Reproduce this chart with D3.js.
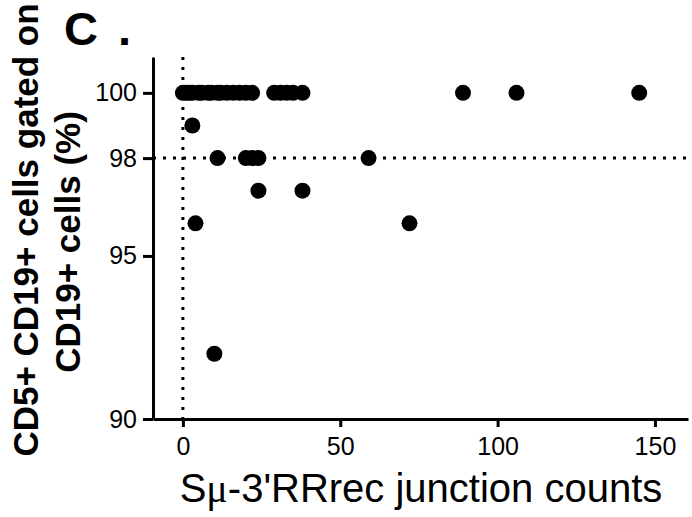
<!DOCTYPE html>
<html>
<head>
<meta charset="utf-8" />
<title>Sμ-3'RRrec junction counts</title>
<script src="https://d3js.org/d3.v7.min.js"></script>
<style>
    body { margin: 0; background: #fff; }
    text { font-family: "Liberation Sans", Arial, sans-serif; fill: #000; }
</style>
</head>
<body>
<svg id="chart"></svg>
<script>

// data
var junctionCounts = [0, 1, 2, 3, 5, 6, 8, 9, 11, 12, 14, 16, 18, 20, 22, 29, 31, 33, 35, 38, 89, 106, 145,
                      3,
                      11, 20, 22, 24, 59,
                      24, 38,
                      4, 72,
                      10]
var pctCD5 = [100, 100, 100, 100, 100, 100, 100, 100, 100, 100, 100, 100, 100, 100, 100, 100, 100, 100, 100, 100, 100, 100, 100,
              99,
              98, 98, 98, 98, 98,
              97, 97,
              96, 96,
              92]
var xTicks = [0, 50, 100, 150]
var yTicks = [90, 95, 98, 100]
var cutX = 0
var cutY = 98

var W = 692, H = 517

var svg = d3.select('#chart')
    .attr('width', W)
    .attr('height', H)

var x = d3.scaleLinear().domain([-9.5, 160.5]).range([153, 688])
var y = d3.scaleLinear().domain([90, 101.1]).range([419, 57])

// dotted reference lines
svg.append('line')
    .attr('x1', x(cutX)).attr('x2', x(cutX))
    .attr('y1', y(101.1)).attr('y2', y(90))
    .attr('stroke', '#000').attr('stroke-width', 3)
    .attr('stroke-dasharray', '3,7')

svg.append('line')
    .attr('x1', x(-9.5)).attr('x2', x(160.5))
    .attr('y1', y(cutY)).attr('y2', y(cutY))
    .attr('stroke', '#000').attr('stroke-width', 3)
    .attr('stroke-dasharray', '3,7')

// axes
svg.append('g')
    .attr('transform', `translate(0,${y(90)})`)
    .call(d3.axisBottom(x).tickValues(xTicks).tickSize(8).tickPadding(10).tickSizeOuter(0))
    .selectAll('.tick text')
    .attr('font-size', 25)

svg.append('g')
    .attr('transform', `translate(${x(-9.5)},0)`)
    .call(d3.axisLeft(y).tickValues(yTicks).tickSize(10).tickPadding(6).tickSizeOuter(0))
    .selectAll('.tick text')
    .attr('font-size', 25)

svg.selectAll('.domain, .tick line')
    .attr('stroke', '#000')
    .attr('stroke-width', 3)

svg.selectAll('.tick text')
    .attr('fill', '#000')

// points
svg.append('g').selectAll('circle')
    .data(junctionCounts)
    .join('circle')
    .attr('cx', d => x(d))
    .attr('cy', (d, i) => y(pctCD5[i]))
    .attr('r', 8)
    .attr('fill', '#000')

// x title
var xt = svg.append('text')
    .attr('x', 421)
    .attr('y', 502)
    .attr('text-anchor', 'middle')
    .attr('font-size', 40)
xt.append('tspan').text('S')
xt.append('tspan').attr('font-family', '"Liberation Serif", "DejaVu Serif", serif').text('μ')
xt.append('tspan').text("-3'RRrec junction counts")

// y title, two lines
svg.append('text')
    .attr('transform', 'translate(38,230) rotate(-90)')
    .attr('text-anchor', 'middle')
    .attr('font-size', 35)
    .attr('font-weight', 'bold')
    .text('CD5+ CD19+ cells gated on')

svg.append('text')
    .attr('transform', 'translate(80,242) rotate(-90)')
    .attr('text-anchor', 'middle')
    .attr('font-size', 35)
    .attr('font-weight', 'bold')
    .text('CD19+ cells (%)')

// panel letter
var pl = svg.append('text')
    .attr('x', 64)
    .attr('y', 45)
    .attr('font-size', 47)
    .attr('font-weight', 'bold')
pl.append('tspan').text('C')
pl.append('tspan').attr('dx', 20).text('.')

</script>
</body>
</html>
